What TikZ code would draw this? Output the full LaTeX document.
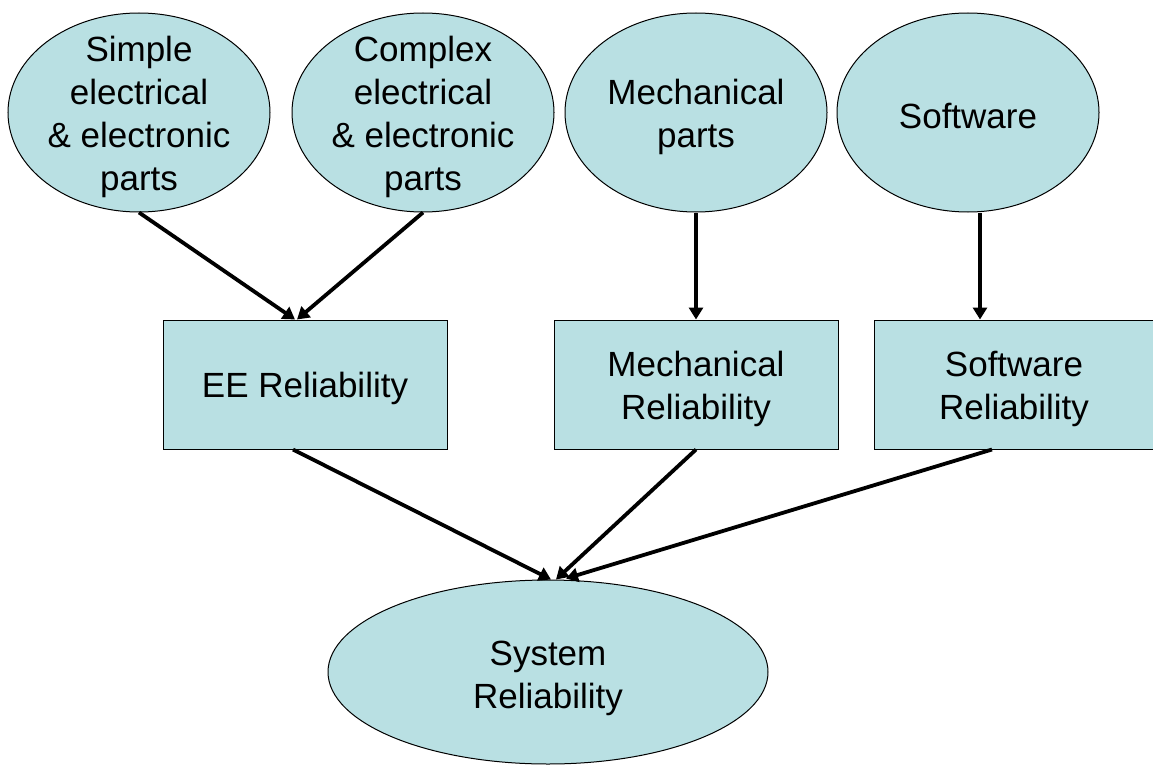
\documentclass[tikz,border=0pt]{standalone}
\usepackage{fontspec}
\setmainfont{Liberation Sans}
\usetikzlibrary{shapes.geometric,arrows.meta}
\definecolor{boxfill}{RGB}{185,224,227}
\begin{document}
\begin{tikzpicture}[x=1pt,y=-1pt,
  ell/.style={ellipse,draw=black,line width=1pt,fill=boxfill,minimum width=262pt,minimum height=199pt,inner sep=0pt},
  rbox/.style={rectangle,draw=black,line width=1pt,fill=boxfill,minimum height=129pt,inner sep=0pt},
  txt/.style={align=center,font=\fontsize{35}{43}\selectfont,inner sep=0pt,yshift=-4pt},
  arr/.style={line width=3.8pt,-{Triangle[length=12pt,width=14pt]}}]
\useasboundingbox (0,0) rectangle (1153,765);
% top ellipses
\node[ell] (s1) at (139,112.5) {};
\node[txt] (t1) at (s1.center) {Simple\\electrical\\\& electronic\\parts};
\node[ell] (s2) at (423,112.5) {};
\node[txt] (t2) at (s2.center) {Complex\\electrical\\\& electronic\\parts};
\node[ell] (s3) at (696,112.5) {};
\node[txt] (t3) at (s3.center) {Mechanical\\parts};
\node[ell] (s4) at (968,112.5) {};
\node[txt] (t4) at (s4.center) {Software};
% boxes
\node[rbox,minimum width=284pt] (ee) at (305,384.5) {};
\node[txt] (t5) at (ee.center) {EE Reliability};
\node[rbox,minimum width=284pt] (mr) at (696,384.5) {};
\node[txt] (t6) at (mr.center) {Mechanical\\Reliability};
\node[rbox,minimum width=280pt] (sr) at (1014,384.5) {};
\node[txt] (t7) at (sr.center) {Software\\Reliability};
% bottom ellipse
\node[ell,minimum width=440pt,minimum height=184pt] (sys) at (548,672) {};
\node[txt,yshift=-2pt] (t8) at (sys.center) {System\\Reliability};
% arrows
\draw[arr] (s1.south) -- ([xshift=-10pt]ee.north);
\draw[arr] (s2.south) -- ([xshift=-8pt]ee.north);
\draw[arr] (s3.south) -- (mr.north);
\draw[arr] ([xshift=12pt]s4.south) -- ([xshift=-34pt]sr.north);
\draw[arr] ([xshift=-12pt]ee.south) -- ([xshift=3pt]sys.north);
\draw[arr] (mr.south) -- ([xshift=8pt]sys.north);
\draw[arr] ([xshift=-22pt]sr.south) -- ([xshift=18pt,yshift=1pt]sys.north);
\end{tikzpicture}
\end{document}
